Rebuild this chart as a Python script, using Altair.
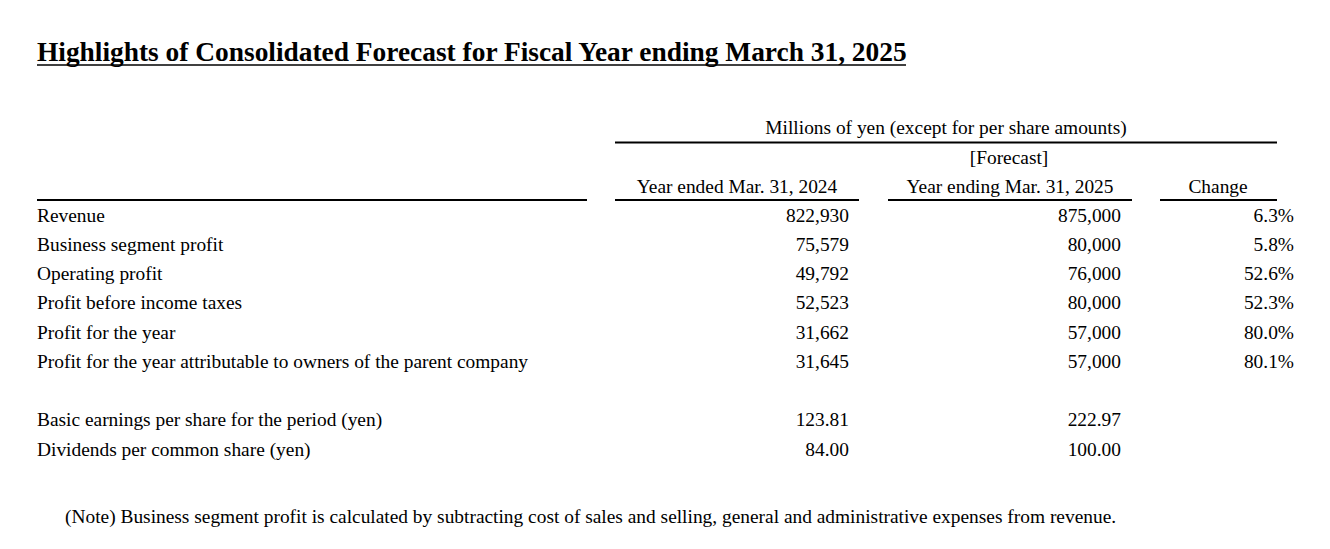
import altair as alt
import pandas as pd

# ---- data ----
row_labels = [
    "Revenue",
    "Business segment profit",
    "Operating profit",
    "Profit before income taxes",
    "Profit for the year",
    "Profit for the year attributable to owners of the parent company",
    "Basic earnings per share for the period (yen)",
    "Dividends per common share (yen)",
]
row_index = [0, 1, 2, 3, 4, 5, 7, 8]
prev_year = ["822,930", "75,579", "49,792", "52,523", "31,662", "31,645", "123.81", "84.00"]
forecast = ["875,000", "80,000", "76,000", "80,000", "57,000", "57,000", "222.97", "100.00"]
change = ["6.3%", "5.8%", "52.6%", "52.3%", "80.0%", "80.1%", "", ""]

title = "Highlights of Consolidated Forecast for Fiscal Year ending March 31, 2025"
unit_header = "Millions of yen (except for per share amounts)"
col_headers = ["Year ended Mar. 31, 2024", "Year ending Mar. 31, 2025", "Change"]
forecast_tag = "[Forecast]"
note = "(Note) Business segment profit is calculated by subtracting cost of sales and selling, general and administrative expenses from revenue."

# ---- layout ----
W, H = 1314, 533
ROW0, ROWH = 215.5, 29.25
FONT = "Liberation Serif"
FS = 19.4
DY = 0.5

xs = alt.Scale(domain=[8, 8 + W], range=[0, W])
ys = alt.Scale(domain=[8, 8 + H], range=[0, H])

def ypos(r):
    return ROW0 + ROWH * r

rows = pd.DataFrame({
    "label": row_labels,
    "prev": prev_year,
    "fc": forecast,
    "chg": change,
    "y": [ypos(r) for r in row_index],
})

def text_layer(df, field, x, align, size=FS, weight="normal"):
    return alt.Chart(df).mark_text(
        font=FONT, fontSize=size, align=align, baseline="middle",
        color="black", fontWeight=weight
    ).encode(
        x=alt.X("xx:Q", scale=xs, axis=None),
        y=alt.Y("y:Q", scale=ys, axis=None),
        text=f"{field}:N",
    ).transform_calculate(xx=str(x))

layers = [
    text_layer(rows, "label", 37, "left"),
    text_layer(rows, "prev", 849, "right"),
    text_layer(rows, "fc", 1121, "right"),
    text_layer(rows, "chg", 1294, "right"),
]

hdr = pd.DataFrame({
    "t": [unit_header, forecast_tag] + col_headers,
    "x": [946, 1009, 737, 1010, 1218],
    "y": [127 + DY, 157 + DY, 186 + DY, 186 + DY, 186 + DY],
})
layers.append(
    alt.Chart(hdr).mark_text(font=FONT, fontSize=FS, align="center", baseline="middle", color="black")
    .encode(x=alt.X("x:Q", scale=xs, axis=None), y=alt.Y("y:Q", scale=ys, axis=None), text="t:N")
)

ttl = pd.DataFrame({"t": [title], "x": [37], "y": [52.5]})
layers.append(
    alt.Chart(ttl).mark_text(font=FONT, fontSize=27.4, fontWeight="bold", align="left", baseline="middle", color="black")
    .encode(x=alt.X("x:Q", scale=xs, axis=None), y=alt.Y("y:Q", scale=ys, axis=None), text="t:N")
)

nt = pd.DataFrame({"t": [note], "x": [65], "y": [516 + DY]})
layers.append(
    alt.Chart(nt).mark_text(font=FONT, fontSize=FS, align="left", baseline="middle", color="black")
    .encode(x=alt.X("x:Q", scale=xs, axis=None), y=alt.Y("y:Q", scale=ys, axis=None), text="t:N")
)

lines = pd.DataFrame({
    "x1": [37, 615, 37, 615, 888, 1160],
    "x2": [906, 1277, 587, 859, 1132, 1277],
    "y": [65, 142.5, 200, 200, 200, 200],
    "w": [1.5, 2, 2, 2, 2, 2],
})
layers.append(
    alt.Chart(lines).mark_rule(color="black")
    .encode(
        x=alt.X("x1:Q", scale=xs, axis=None),
        x2="x2:Q",
        y=alt.Y("y:Q", scale=ys, axis=None),
        strokeWidth=alt.StrokeWidth("w:Q", scale=None),
    )
)

chart = alt.layer(*layers).properties(
    width=W, height=H, autosize=alt.AutoSizeParams(type="none"), padding=0,
    background="white",
).configure_view(stroke=None)

chart.save("out.html", embed_options={"renderer": "svg", "actions": False})
